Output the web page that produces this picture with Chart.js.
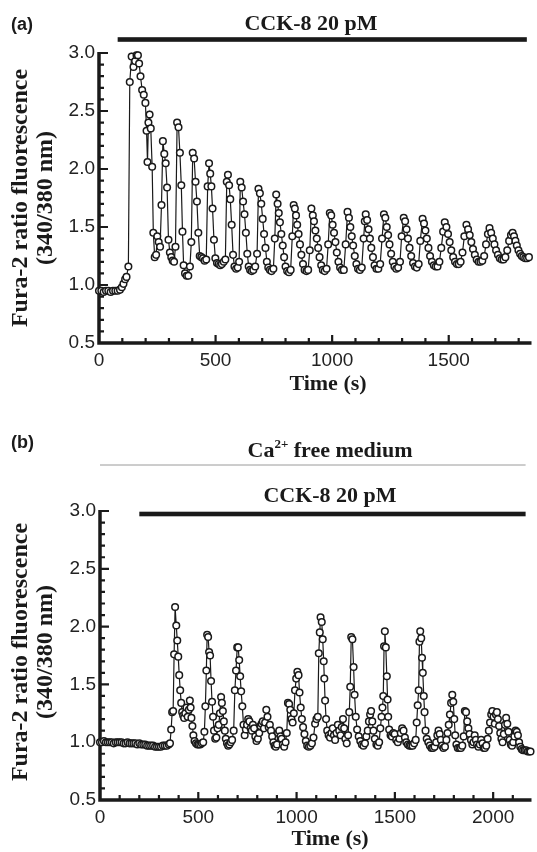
<!DOCTYPE html>
<html>
<head>
<meta charset="utf-8">
<script src="https://cdn.jsdelivr.net/npm/chart.js@4.4.1/dist/chart.umd.min.js"></script>
<style>
body { margin: 0; background: #fff; }
#wrap { position: relative; width: 537px; height: 852px; }
canvas { position: absolute; left: 0; }
</style>
</head>
<body>
<div id="wrap">
<canvas id="chartA" width="537" height="410" style="top:0px"></canvas>
<canvas id="chartB" width="537" height="442" style="top:410px"></canvas>
</div>
<script>
// panel (a): CCK-8 in normal medium
const timeA = [
  0,10,20,30,40,50,60,70,80,90,
  98,105,112,118,126,132,140,148,155,161,
  167,172,178,185,192,199,204,208,212,217,
  222,228,233,239,245,250,256,262,268,274,
  280,286,292,298,304,310,316,322,328,335,
  341,347,353,358,363,369,376,383,390,396,
  402,408,414,420,426,432,439,446,453,460,
  466,472,477,482,487,493,499,506,513,520,
  527,535,542,548,553,558,563,569,575,581,
  588,595,601,606,612,618,624,630,636,642,
  648,655,662,670,678,684,690,696,702,708,
  714,720,726,733,740,748,754,760,766,771,
  776,782,788,794,800,807,815,822,829,835,
  840,845,850,856,862,868,875,882,890,897,
  904,911,917,922,928,934,940,946,953,960,
  968,976,983,990,996,1002,1008,1014,1020,1027,
  1034,1042,1050,1058,1066,1072,1078,1084,1090,1097,
  1104,1111,1119,1127,1135,1140,1144,1150,1156,1162,
  1168,1175,1182,1190,1198,1206,1214,1222,1228,1234,
  1240,1246,1253,1260,1267,1275,1283,1291,1298,1307,
  1313,1319,1325,1332,1339,1347,1355,1363,1371,1378,
  1388,1394,1400,1406,1413,1420,1428,1436,1444,1452,
  1460,1468,1476,1483,1490,1497,1504,1511,1519,1527,
  1535,1543,1551,1559,1567,1576,1583,1590,1597,1604,
  1612,1620,1628,1636,1644,1652,1660,1668,1675,1682,
  1689,1696,1703,1711,1719,1727,1735,1743,1751,1759,
  1767,1774,1780,1786,1792,1799,1806,1813,1820,1828,
  1836,1844
];
const ratioA = [
  0.95,0.95,0.94,0.95,0.95,0.94,0.95,0.95,0.95,0.96,
  0.98,1.01,1.05,1.07,1.16,2.75,2.97,2.88,2.93,2.98,
  2.98,2.91,2.80,2.68,2.64,2.57,2.33,2.06,2.40,2.47,
  2.35,2.02,1.45,1.24,1.26,1.42,1.37,1.33,1.69,2.24,
  2.13,2.05,1.84,1.39,1.28,1.24,1.21,1.20,1.33,2.40,
  2.36,2.14,1.86,1.46,1.17,1.10,1.08,1.08,1.16,1.37,
  2.14,2.09,1.89,1.72,1.45,1.25,1.24,1.23,1.21,1.22,
  1.85,2.05,1.96,1.85,1.66,1.39,1.23,1.19,1.18,1.17,
  1.18,1.20,1.22,1.89,1.95,1.86,1.74,1.52,1.26,1.16,
  1.14,1.15,1.20,1.89,1.84,1.72,1.61,1.45,1.27,1.16,
  1.13,1.12,1.13,1.16,1.27,1.83,1.79,1.70,1.57,1.44,
  1.32,1.20,1.15,1.13,1.12,1.14,1.40,1.78,1.70,1.62,
  1.54,1.44,1.34,1.24,1.16,1.12,1.11,1.13,1.42,1.69,
  1.66,1.60,1.52,1.44,1.35,1.26,1.18,1.13,1.12,1.13,
  1.30,1.66,1.60,1.55,1.47,1.40,1.32,1.24,1.17,1.13,
  1.12,1.14,1.35,1.62,1.60,1.52,1.45,1.37,1.28,1.20,
  1.15,1.13,1.13,1.35,1.63,1.58,1.50,1.42,1.34,1.25,
  1.18,1.14,1.13,1.15,1.40,1.55,1.61,1.56,1.48,1.40,
  1.32,1.24,1.17,1.14,1.14,1.18,1.40,1.61,1.58,1.50,
  1.43,1.35,1.27,1.20,1.16,1.14,1.15,1.20,1.42,1.58,
  1.55,1.48,1.40,1.32,1.25,1.19,1.16,1.15,1.18,1.38,
  1.57,1.53,1.47,1.40,1.32,1.25,1.20,1.17,1.16,1.16,
  1.20,1.32,1.46,1.54,1.50,1.44,1.37,1.30,1.24,1.20,
  1.18,1.18,1.20,1.28,1.42,1.52,1.48,1.43,1.37,1.31,
  1.26,1.22,1.20,1.20,1.21,1.25,1.35,1.44,1.49,1.45,
  1.40,1.35,1.30,1.26,1.23,1.22,1.22,1.24,1.30,1.38,
  1.43,1.45,1.42,1.38,1.34,1.30,1.27,1.25,1.24,1.23,
  1.23,1.24
];

// panel (b): CCK-8 in Ca2+ free medium
const timeB = [
  0,10,20,30,40,50,60,70,80,90,
  100,110,120,130,140,150,160,170,180,190,
  200,210,220,230,240,250,260,270,280,290,
  300,310,320,330,340,350,356,362,367,372,
  377,382,388,393,398,403,408,413,418,423,
  428,434,440,446,452,457,461,465,470,475,
  481,488,495,502,510,518,525,531,536,541,
  545,550,555,560,565,570,575,580,586,592,
  598,604,610,616,620,625,630,635,640,646,
  652,658,665,672,680,686,692,698,703,708,
  713,718,724,730,736,742,748,754,760,766,
  772,778,784,790,796,803,810,816,822,828,
  834,840,846,852,858,864,870,876,882,888,
  894,900,906,912,918,924,930,937,944,950,
  956,962,968,974,980,986,992,998,1004,1010,
  1015,1021,1027,1033,1040,1047,1054,1062,1070,1078,
  1086,1094,1101,1108,1113,1118,1122,1128,1133,1138,
  1141,1145,1150,1156,1163,1170,1177,1184,1190,1196,
  1203,1210,1217,1224,1230,1236,1242,1248,1255,1262,
  1268,1273,1278,1284,1290,1295,1301,1308,1316,1324,
  1332,1340,1348,1355,1362,1368,1374,1379,1385,1391,
  1398,1406,1413,1420,1426,1432,1437,1441,1445,1449,
  1454,1459,1463,1466,1471,1478,1485,1492,1499,1507,
  1515,1523,1530,1537,1544,1551,1558,1566,1574,1582,
  1590,1598,1606,1611,1616,1621,1625,1629,1634,1638,
  1642,1647,1651,1656,1662,1670,1678,1686,1694,1702,
  1710,1716,1722,1728,1734,1740,1747,1755,1762,1768,
  1774,1780,1786,1792,1797,1802,1807,1813,1820,1828,
  1836,1843,1850,1856,1862,1868,1874,1880,1887,1894,
  1900,1906,1912,1918,1925,1932,1939,1946,1952,1958,
  1965,1972,1978,1984,1990,1996,2002,2008,2014,2019,
  2024,2030,2036,2042,2048,2054,2060,2066,2072,2078,
  2084,2090,2096,2102,2108,2114,2120,2126,2132,2138,
  2145,2152,2160,2168,2176,2184,2190
];
const ratioB = [
  1.00,1.00,1.01,1.00,1.00,1.00,1.00,0.99,1.00,1.00,
  1.00,1.00,0.99,0.99,1.00,0.99,0.99,0.99,0.99,0.98,
  0.99,0.98,0.98,0.98,0.97,0.97,0.97,0.97,0.96,0.96,
  0.96,0.96,0.97,0.97,0.97,0.98,0.99,1.11,1.26,1.27,
  1.76,2.17,2.01,1.88,1.74,1.58,1.45,1.34,1.26,1.23,
  1.21,1.25,1.30,1.22,1.28,1.36,1.30,1.21,1.14,1.06,
  1.01,0.99,0.98,0.98,0.98,0.99,1.00,1.09,1.31,1.62,
  1.93,1.91,1.78,1.75,1.53,1.35,1.22,1.10,1.03,1.04,
  1.12,1.15,1.25,1.39,1.34,1.27,1.18,1.10,1.03,0.99,
  0.97,0.98,1.00,1.02,1.10,1.45,1.62,1.82,1.82,1.71,
  1.57,1.44,1.31,1.15,1.06,1.11,1.15,1.20,1.18,1.12,
  1.10,1.15,1.12,1.05,1.01,1.03,1.08,1.14,1.16,1.18,
  1.12,1.17,1.28,1.22,1.13,1.15,1.10,1.05,1.00,0.97,
  0.96,0.98,1.08,1.10,1.05,1.03,0.98,0.96,1.00,1.08,
  1.34,1.33,1.28,1.20,1.17,1.25,1.45,1.55,1.61,1.58,
  1.43,1.30,1.20,1.13,1.07,1.01,0.97,0.96,0.97,0.99,
  1.04,1.16,1.20,1.22,1.77,1.95,2.08,2.04,1.89,1.70,
  1.55,1.36,1.20,1.10,1.06,1.04,1.08,1.12,1.06,1.02,
  1.08,1.15,1.10,1.06,1.13,1.20,1.12,1.03,0.99,1.06,
  1.26,1.48,1.91,1.89,1.65,1.41,1.22,1.11,1.05,1.01,
  0.98,0.97,0.99,1.05,1.10,1.18,1.24,1.27,1.18,1.10,
  1.03,0.98,0.97,1.00,1.12,1.22,1.30,1.40,1.83,1.96,
  1.82,1.57,1.37,1.22,1.11,1.06,1.05,1.08,1.07,1.02,
  1.00,1.03,1.08,1.12,1.10,1.04,1.00,0.98,0.97,0.97,
  0.97,0.99,1.02,1.17,1.32,1.45,1.87,1.96,1.90,1.73,
  1.60,1.40,1.26,1.10,1.03,1.00,0.97,0.95,0.95,0.96,
  1.00,1.06,1.10,1.07,1.02,0.97,0.95,0.96,1.02,1.08,
  1.15,1.24,1.34,1.41,1.35,1.20,1.06,0.98,0.95,0.95,
  0.95,0.97,1.05,1.27,1.26,1.18,1.12,1.07,1.02,0.98,
  1.00,1.06,1.02,0.98,0.96,0.98,1.02,0.99,0.95,0.95,
  0.97,1.03,1.10,1.17,1.24,1.27,1.22,1.16,1.24,1.26,
  1.20,1.14,1.08,1.03,1.00,1.07,1.15,1.21,1.16,1.09,
  1.02,0.98,0.97,1.00,1.05,1.10,1.09,1.06,1.00,0.96,
  0.94,0.93,0.93,0.93,0.92,0.92,0.92
];

const yTickLabels = ['0.5', '1.0', '1.5', '2.0', '2.5', '3.0'];
const xTickLabelsA = ['0', '500', '1000', '1500'];
const xTickLabelsB = ['0', '500', '1000', '1500', '2000'];
const cckA = [80, 1835];    // time span of the CCK-8 bar
const cckB = [200, 2165];

const serif = '"Liberation Serif", "Times New Roman", serif';
const sans = '"Liberation Sans", Arial, sans-serif';

// every 100 s on x, every 0.1 on y (minor + major marks)
function xMarks(max) {
    const out = [];
    for (let v = 0; v <= max; v += 100) out.push({ value: v });
    return out;
}
function yMarks() {
    const out = [];
    for (let i = 5; i <= 30; i++) out.push({ value: i / 10 });
    return out;
}

// axes with inward ticks, bars and labels
const panelDecor = {
    id: 'panelDecor',
    beforeDatasetsDraw(chart, args, o) {
        const ctx = chart.ctx, a = chart.chartArea;
        const xs = chart.scales.x, ys = chart.scales.y;
        ctx.save();
        ctx.strokeStyle = '#1a1a1a';
        ctx.lineWidth = 3.5;
        ctx.beginPath();
        ctx.moveTo(a.left, a.top - 1);
        ctx.lineTo(a.left, a.bottom);
        ctx.lineTo(a.right, a.bottom);
        ctx.stroke();

        ctx.lineWidth = 2.2;
        ctx.beginPath();
        xs.ticks.forEach(t => {
            const px = xs.getPixelForValue(t.value);
            if (t.value === 0) return;
            const len = t.value % 500 === 0 ? 8 : 5;
            ctx.moveTo(px, a.bottom);
            ctx.lineTo(px, a.bottom - len);
        });
        ys.ticks.forEach(t => {
            const py = ys.getPixelForValue(t.value);
            const tenths = Math.round(t.value * 10);
            if (tenths === 5) return;
            const len = tenths % 5 === 0 ? 9 : 5;
            ctx.moveTo(a.left, py);
            ctx.lineTo(a.left + len, py);
        });
        ctx.stroke();
        ctx.restore();
    },
    afterDraw(chart, args, o) {
        const ctx = chart.ctx;
        const xs = chart.scales.x;
        ctx.save();
        ctx.fillStyle = '#1a1a1a';
        ctx.textBaseline = 'alphabetic';

        ctx.font = 'bold 18px ' + sans;
        ctx.textAlign = 'left';
        ctx.fillText(o.letter, 11, o.letterY);

        // CCK-8 bar
        ctx.font = 'bold 22px ' + serif;
        ctx.textAlign = 'center';
        ctx.fillText('CCK-8 20 pM', o.cckTextX, o.cckTextY);
        const x0 = xs.getPixelForValue(o.cck[0]);
        const x1 = xs.getPixelForValue(o.cck[1]);
        ctx.fillRect(x0, o.barY - 2.3, x1 - x0, 4.6);

        if (o.caFree) {
            ctx.textAlign = 'left';
            const big = 'bold 22px ' + serif, small = 'bold 13px ' + serif;
            ctx.font = big;
            const w1 = ctx.measureText('Ca').width;
            const w3 = ctx.measureText(' free medium').width;
            ctx.font = small;
            const w2 = ctx.measureText('2+').width;
            let x = o.caX - (w1 + w2 + w3) / 2;
            ctx.font = big;
            ctx.fillText('Ca', x, o.caY);
            ctx.font = small;
            ctx.fillText('2+', x + w1, o.caY - 9);
            ctx.font = big;
            ctx.fillText(' free medium', x + w1 + w2, o.caY);
            ctx.strokeStyle = '#9a9a9a';
            ctx.lineWidth = 1;
            ctx.beginPath();
            ctx.moveTo(chart.chartArea.left, o.caLineY);
            ctx.lineTo(x1, o.caLineY);
            ctx.stroke();
        }

        // axis titles
        ctx.font = 'bold 22px ' + serif;
        ctx.textAlign = 'center';
        ctx.fillText('Time (s)', o.timeX, o.timeY);

        ctx.font = 'bold 24px ' + serif;
        ctx.translate(0, o.yLabelMid);
        ctx.rotate(-Math.PI / 2);
        ctx.textBaseline = 'middle';
        ctx.fillText('Fura-2 ratio fluorescence', 0, 21);
        ctx.fillText('(340/380 nm)', 0, 46);
        ctx.restore();
    }
};

function makePanel(id, times, ratios, xMax, xLabels, top, height, decor) {
    return new Chart(document.getElementById(id), {
        type: 'scatter',
        data: {
            datasets: [{
                data: times.map((t, i) => ({ x: t, y: ratios[i] })),
                showLine: true,
                borderColor: '#1a1a1a',
                borderWidth: 1.2,
                pointRadius: 3.3,
                pointBorderWidth: 1.5,
                pointBackgroundColor: '#ffffff',
                pointBorderColor: '#1a1a1a',
                clip: false
            }]
        },
        options: {
            responsive: false,
            animation: false,
            devicePixelRatio: 1,
            layout: { padding: { top: top, right: 1, left: 0, bottom: 0 } },
            plugins: {
                legend: { display: false },
                tooltip: { enabled: false },
                panelDecor: decor
            },
            scales: {
                x: {
                    type: 'linear',
                    min: 0,
                    max: xMax,
                    grid: { display: false, drawTicks: false },
                    border: { display: false },
                    afterFit: s => { s.height = height; },
                    afterBuildTicks: s => { s.ticks = xMarks(xMax); },
                    ticks: {
                        autoSkip: false,
                        maxRotation: 0,
                        padding: 6,
                        color: '#222',
                        font: { family: sans, size: 19 },
                        callback: v => xLabels.includes(String(v)) ? String(v) : ''
                    }
                },
                y: {
                    min: 0.5,
                    max: 3.0,
                    grid: { display: false, drawTicks: false },
                    border: { display: false },
                    afterFit: s => { s.width = decor.axisX; },
                    afterBuildTicks: s => { s.ticks = yMarks(); },
                    ticks: {
                        autoSkip: false,
                        padding: 4,
                        color: '#222',
                        font: { family: sans, size: 19 },
                        callback: v => {
                            const s = v.toFixed(1);
                            return yTickLabels.includes(s) ? s : '';
                        }
                    }
                }
            }
        },
        plugins: [panelDecor]
    });
}

makePanel('chartA', timeA, ratioA, 1855, xTickLabelsA, 53, 67, {
    letter: '(a)', letterY: 30, axisX: 99,
    cck: cckA, cckTextX: 311, cckTextY: 30, barY: 39.5,
    timeX: 328, timeY: 390, yLabelMid: 198
});

makePanel('chartB', timeB, ratioB, 2195, xTickLabelsB, 101, 52, {
    letter: '(b)', letterY: 38, axisX: 100,
    cck: cckB, cckTextX: 330, cckTextY: 92, barY: 104,
    caFree: true, caX: 330, caY: 47, caLineY: 55,
    timeX: 330, timeY: 435, yLabelMid: 242
});
</script>
</body>
</html>
